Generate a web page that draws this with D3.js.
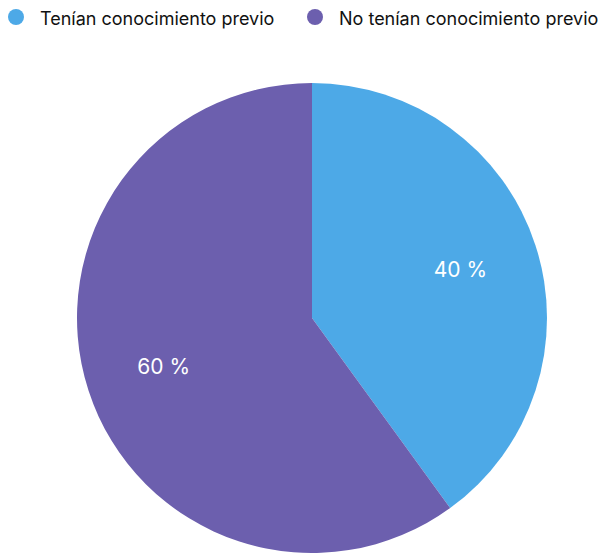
<!DOCTYPE html>
<html><head><meta charset="utf-8">
<script src="https://cdn.jsdelivr.net/npm/d3@7"></script>
<style>html,body{margin:0;padding:0;background:#fff;}svg{display:block;}</style>
</head><body>
<script>
const categories = ["Tenían conocimiento previo", "No tenían conocimiento previo"];
const values = [40, 60];
const labels = ["40 %", "60 %"];
const colors = ["#4DA9E7", "#6C5FAE"];

const W = 616, H = 553;
const svg = d3.select("body").append("svg").attr("width", W).attr("height", H);
const font = "Inter, 'Liberation Sans', Arial, sans-serif";

const cx = 312, cy = 318, R = 235;
const pie = d3.pie().sort(null).value(d => d)(values);
const arc = d3.arc().innerRadius(0).outerRadius(R);
const labelArc = d3.arc().innerRadius(156).outerRadius(156);

const g = svg.append("g").attr("transform", `translate(${cx},${cy})`);
g.selectAll("path").data(pie).join("path")
  .attr("d", arc).attr("fill", (d, i) => colors[i]);
g.selectAll("text").data(pie).join("text")
  .attr("transform", d => `translate(${labelArc.centroid(d)})`)
  .attr("text-anchor", "middle").attr("dominant-baseline", "central")
  .attr("fill", "#fff").attr("font-family", font).attr("font-size", 21)
  .text((d, i) => labels[i]);

// legend
const legX = [16, 315];
const leg = svg.append("g");
categories.forEach((c, i) => {
  leg.append("circle").attr("cx", legX[i]).attr("cy", 17).attr("r", 8).attr("fill", colors[i]);
  leg.append("text").attr("x", legX[i] + 24).attr("y", 18).attr("dominant-baseline", "central")
    .attr("font-family", font).attr("font-size", 18).attr("fill", "#111").text(c);
});
</script>
</body></html>
